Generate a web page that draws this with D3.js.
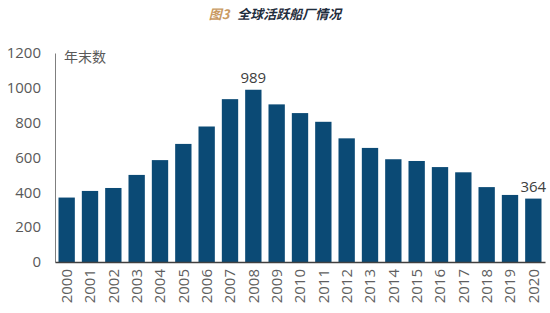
<!DOCTYPE html>
<html>
<head>
<meta charset="utf-8">
<script src="https://cdn.jsdelivr.net/npm/d3@7"></script>
<style>
  body { margin: 0; background: #fff; }
  text { font-family: "Open Sans", "Noto Sans", sans-serif; }
</style>
</head>
<body>
<div class="chart"></div>
<script>
const years = ["2000","2001","2002","2003","2004","2005","2006","2007","2008","2009","2010",
               "2011","2012","2013","2014","2015","2016","2017","2018","2019","2020"];
const yards = [370, 408, 425, 500, 585, 678, 778, 935, 989, 905, 855,
               805, 710, 655, 590, 580, 545, 515, 430, 385, 364];
const yTicks = [0, 200, 400, 600, 800, 1000, 1200];
const labelled = ["2008", "2020"];

const width = 550, height = 313;
const margin = {top: 53, right: 5, bottom: 51, left: 55};

const svg = d3.select(".chart").append("svg")
    .attr("width", width)
    .attr("height", height);

const xScale = d3.scaleBand()
    .domain(years)
    .range([margin.left, width - margin.right])
    .paddingInner(0.3)
    .paddingOuter(0.15);

const yScale = d3.scaleLinear()
    .domain([0, 1200])
    .range([height - margin.bottom, margin.top]);

// title
const title = svg.append("text")
    .attr("x", 275)
    .attr("y", 19)
    .attr("text-anchor", "middle")
    .attr("font-size", 13)
    .attr("font-weight", "bold")
    .attr("font-style", "italic")
    .style("font-family", "'Noto Sans CJK SC', sans-serif");
title.append("tspan").attr("fill", "#c99a62").text("图3");
title.append("tspan").attr("fill", "#1f2d3d").attr("dx", 8).text("全球活跃船厂情况");

// y axis
const yAxis = d3.axisLeft(yScale).tickValues(yTicks).tickFormat(d3.format("d"))
    .tickSize(0).tickPadding(14);
svg.append("g")
    .attr("transform", `translate(${margin.left},0)`)
    .call(yAxis)
    .call(g => g.select(".domain").attr("stroke", "#7f7f7f"))
    .selectAll("text")
    .attr("font-size", 15)
    .attr("fill", "#595959")
    .style("font-family", "'Open Sans', sans-serif");

svg.append("text")
    .attr("x", margin.left + 9)
    .attr("y", margin.top + 9)
    .attr("font-size", 14)
    .attr("fill", "#595959")
    .style("font-family", "'Noto Sans CJK SC', sans-serif")
    .text("年末数");

// bars
svg.append("g")
    .attr("fill", "#0b4a75")
    .selectAll("rect")
    .data(years)
    .join("rect")
    .attr("x", d => xScale(d))
    .attr("y", (d, i) => yScale(yards[i]))
    .attr("width", xScale.bandwidth())
    .attr("height", (d, i) => yScale(0) - yScale(yards[i]));

// x axis
const xAxis = d3.axisBottom(xScale).tickSize(0).tickPadding(8);
svg.append("g")
    .attr("transform", `translate(0,${yScale(0)})`)
    .call(xAxis)
    .call(g => g.select(".domain").attr("stroke", "#404040").attr("stroke-width", 1.3))
    .selectAll("text")
    .attr("font-size", 15)
    .attr("fill", "#5f5f5f")
    .attr("text-anchor", "end")
    .attr("transform", "rotate(-90)")
    .attr("x", -7)
    .attr("y", 0)
    .attr("dy", "0.35em");

// value labels
svg.append("g")
    .selectAll("text")
    .data(labelled)
    .join("text")
    .attr("x", d => xScale(d) + xScale.bandwidth() / 2)
    .attr("y", d => yScale(yards[years.indexOf(d)]) - 7)
    .attr("text-anchor", "middle")
    .attr("font-size", 15)
    .attr("fill", "#404040")
    .text(d => yards[years.indexOf(d)]);
</script>
</body>
</html>
